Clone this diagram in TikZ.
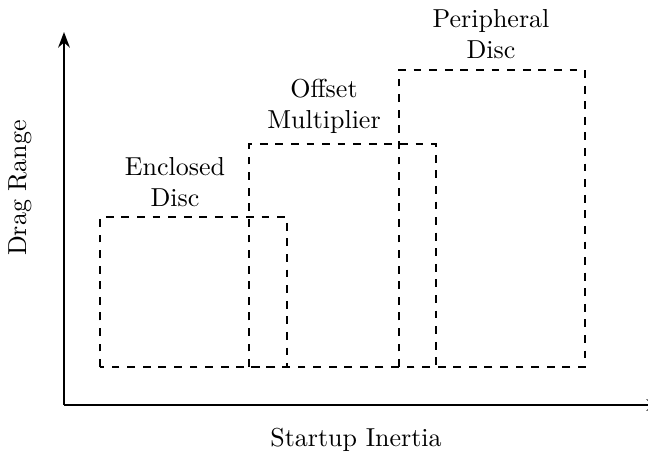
\documentclass[tikz,border=0pt]{standalone}
\usetikzlibrary{arrows.meta}
\begin{document}
\begin{tikzpicture}[x=0.385pt, y=-0.385pt,
  axis/.style={thick, -{Stealth[length=6pt, width=4.5pt]}},
  region/.style={thick, dashed},
  caption/.style={align=center, inner sep=0pt}]
  \useasboundingbox (0,0) rectangle (648,455);
  % axes
  \coordinate (origin) at (64,405);
  \coordinate (ytop) at (64,32);
  \coordinate (xend) at (662,405);
  \draw[axis] (origin) -- (ytop);
  \draw[axis] (origin) -- (xend);
  % design regions
  \draw[region] (100,367) rectangle (287,217);
  \draw[region] (249,367) rectangle (436,144);
  \draw[region] (399,367) rectangle (585,70);
  % labels
  \node[caption] (enc) at (175,182) {Enclosed\\Disc};
  \node[caption] (off) at (324,106) {Offset\\Multiplier};
  \node[caption] (per) at (491,34) {Peripheral\\Disc};
  \node[rotate=90] (ylab) at (20,188) {Drag Range};
  \node (xlab) at (356,440) {Startup Inertia};
\end{tikzpicture}
\end{document}
